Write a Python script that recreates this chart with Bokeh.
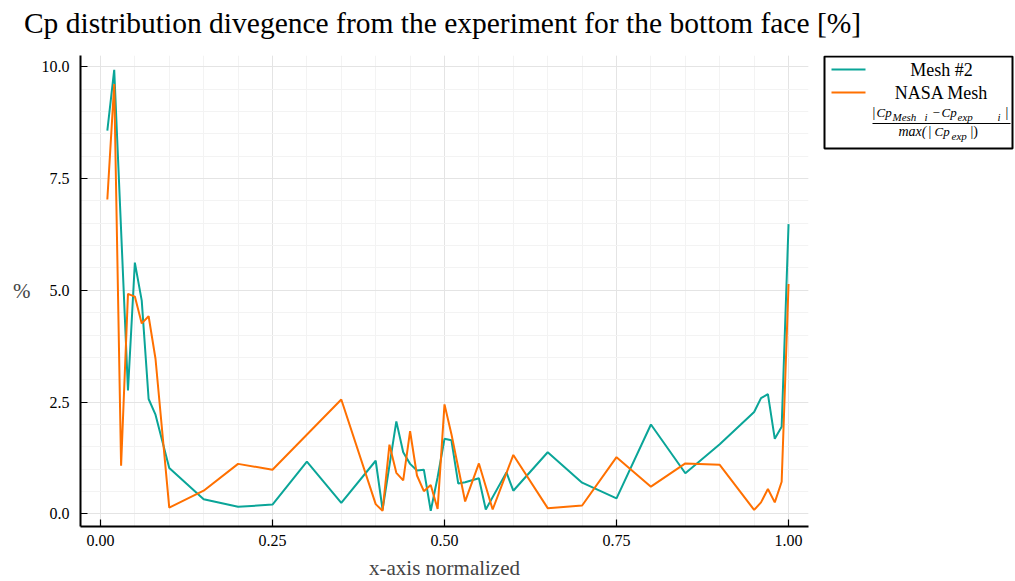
import numpy as np
from bokeh.plotting import figure
from bokeh.layouts import column, row
from bokeh.models import Range1d, FixedTicker, NumeralTickFormatter
from bokeh.core.properties import value
from bokeh.embed import file_html
from bokeh.resources import INLINE

# ---------------- data ----------------
mesh2_x = [0.01, 0.02, 0.04, 0.05, 0.06, 0.07, 0.08, 0.10, 0.15, 0.20, 0.25, 0.30,
           0.35, 0.40, 0.41, 0.43, 0.44, 0.45, 0.46, 0.47, 0.48, 0.49, 0.50, 0.51,
           0.52, 0.53, 0.55, 0.56, 0.59, 0.60, 0.65, 0.70, 0.75, 0.80, 0.85, 0.90,
           0.95, 0.96, 0.97, 0.98, 0.99, 1.00]
mesh2_y = [8.57, 9.93, 2.76, 5.62, 4.77, 2.57, 2.22, 1.03, 0.33, 0.16, 0.21, 1.17,
           0.25, 1.19, 0.10, 2.07, 1.38, 1.12, 0.97, 0.99, 0.07, 0.82, 1.68, 1.65,
           0.68, 0.71, 0.80, 0.10, 0.93, 0.52, 1.38, 0.70, 0.35, 2.00, 0.91, 1.56,
           2.28, 2.59, 2.68, 1.68, 1.95, 6.48]

nasa_x = [0.01, 0.02, 0.03, 0.04, 0.05, 0.06, 0.07, 0.08, 0.10, 0.15, 0.20, 0.25,
          0.35, 0.40, 0.41, 0.42, 0.43, 0.44, 0.45, 0.46, 0.47, 0.48, 0.49, 0.50,
          0.51, 0.53, 0.55, 0.57, 0.60, 0.65, 0.70, 0.75, 0.80, 0.85, 0.90, 0.95,
          0.96, 0.97, 0.98, 0.99, 1.00]
nasa_y = [7.03, 9.61, 1.08, 4.92, 4.86, 4.26, 4.42, 3.47, 0.14, 0.52, 1.12, 0.99,
          2.56, 0.22, 0.07, 1.55, 0.92, 0.75, 1.85, 0.86, 0.51, 0.65, 0.11, 2.45,
          1.79, 0.28, 1.13, 0.10, 1.32, 0.13, 0.19, 1.27, 0.61, 1.13, 1.10, 0.09,
          0.26, 0.56, 0.26, 0.72, 5.14]

series_names = ["Mesh #2", "NASA Mesh"]
x_ticks = [0.0, 0.25, 0.5, 0.75, 1.0]
y_ticks = [0.0, 2.5, 5.0, 7.5, 10.0]
title_text = "Cp distribution divegence from the experiment for the bottom face [%]"
x_label = "x-axis normalized"
y_label = "%"

TEAL = "#0aa598"
ORANGE = "#ff7000"
SERIF = "Liberation Serif"

PAGE_W, TITLE_H = 1015, 40
MAIN_W = 816
FRAME_TOP, FRAME_H = 55, 471


def blank(w, h, xr, yr):
    f = figure(frame_width=w, frame_height=h, x_range=xr, y_range=yr,
               min_border=0, min_border_left=0, min_border_right=0,
               min_border_top=0, min_border_bottom=0,
               x_axis_location=None, y_axis_location=None,
               output_backend="svg", toolbar_location=None)
    f.xgrid.visible = False
    f.ygrid.visible = False
    f.outline_line_color = None
    f.background_fill_color = "white"
    f.border_fill_color = "white"
    return f


# ---------------- title strip (page pixel coordinates) ----------------
t = blank(PAGE_W, TITLE_H, Range1d(0, PAGE_W), Range1d(TITLE_H, 0))
t.text(x=[442], y=[22], text=[title_text], text_align="center",
       text_baseline="middle", text_font=value(SERIF), text_font_style="normal",
       text_font_size="29.5px", text_color="black")

# ---------------- main plot ----------------
p = figure(frame_width=728, frame_height=FRAME_H,
           min_border_left=80, min_border_top=FRAME_TOP - TITLE_H,
           min_border_right=MAIN_W - 80 - 728, min_border_bottom=52,
           x_range=Range1d(-0.029, 1.029), y_range=Range1d(-0.28, 10.25),
           output_backend="svg", toolbar_location=None)
p.outline_line_color = None
p.background_fill_color = "white"
p.border_fill_color = "white"

for ax in (p.xaxis[0], p.yaxis[0]):
    ax.axis_line_width = 2
    ax.axis_line_color = "black"
    ax.major_tick_in = 7
    ax.major_tick_out = 0
    ax.major_tick_line_width = 1.2
    ax.minor_tick_line_color = None
    ax.major_label_text_font = SERIF
    ax.major_label_text_font_size = "16px"
    ax.major_label_text_color = "black"

p.xaxis.ticker = FixedTicker(ticks=x_ticks,
                             minor_ticks=list(np.round(np.arange(0, 1.0001, 0.05), 2)))
p.yaxis.ticker = FixedTicker(ticks=y_ticks,
                             minor_ticks=list(np.round(np.arange(0, 10.001, 0.5), 2)))
p.xaxis.formatter = NumeralTickFormatter(format="0.00")
p.yaxis.formatter = NumeralTickFormatter(format="0.0")
p.xaxis.major_label_standoff = 4
p.yaxis.major_label_standoff = 7

p.xaxis.axis_label = x_label
p.xaxis.axis_label_text_font = SERIF
p.xaxis.axis_label_text_font_style = "normal"
p.xaxis.axis_label_text_font_size = "21px"
p.xaxis.axis_label_standoff = 7

p.yaxis.axis_label = y_label
p.yaxis.axis_label_text_font = SERIF
p.yaxis.axis_label_text_font_style = "normal"
p.yaxis.axis_label_text_font_size = "21px"
p.yaxis.axis_label_standoff = 8
try:
    p.yaxis.axis_label_orientation = "horizontal"
except Exception:
    pass

for g in (p.xgrid[0], p.ygrid[0]):
    g.grid_line_color = "#e4e4e4"
    g.grid_line_width = 1
    g.minor_grid_line_color = "#f3f3f3"
    g.minor_grid_line_width = 1

p.line(mesh2_x, mesh2_y, line_color=TEAL, line_width=2)
p.line(nasa_x, nasa_y, line_color=ORANGE, line_width=2)

# ---------------- legend panel (page pixel coordinates, frame aligned) ----------------
lg = blank(PAGE_W - MAIN_W, FRAME_H, Range1d(MAIN_W, PAGE_W),
           Range1d(FRAME_TOP + FRAME_H, FRAME_TOP))
lg.quad(left=[824], right=[1012], top=[56], bottom=[148],
        fill_color="white", line_color="black", line_width=2)
legend_colors = [TEAL, ORANGE]
legend_rows = [69, 92]
for Y, col, name in zip(legend_rows, legend_colors, series_names):
    lg.line([831, 865], [Y, Y], line_color=col, line_width=2)
    lg.text(x=[941], y=[Y], text=[name], text_align="center",
            text_baseline="middle", text_font=value(SERIF),
            text_font_size="18px", text_color="black")


def ftxt(X, Y, s, size, style="italic"):
    lg.text(x=[X], y=[Y], text=[s], text_align="left", text_baseline="middle",
            text_font=value(SERIF), text_font_style=style,
            text_font_size=f"{size}px", text_color="black")


# |Cp_{Mesh i} - Cp_{exp i}| / max(|Cp_exp|)
ftxt(872, 112, "|", 14, "normal")
ftxt(876, 112, "Cp", 13)
ftxt(892, 116, "Mesh", 11)
ftxt(924, 116, "i", 11)
ftxt(932, 112, "\u2212", 13, "normal")
ftxt(941, 112, "Cp", 13)
ftxt(957, 116, "exp", 11)
ftxt(997, 116, "i", 11)
ftxt(1005, 112, "|", 14, "normal")
lg.line([872, 1010], [123, 123], line_color="black", line_width=1)
ftxt(898, 131, "max(", 14)
ftxt(928, 131, "|", 14, "normal")
ftxt(934, 131, "Cp", 13)
ftxt(951, 135, "exp", 11)
ftxt(970, 131, "|)", 14, "normal")

layout = column(t, row(p, lg, spacing=0), spacing=0)
open("out.html", "w").write(file_html(layout, INLINE))
